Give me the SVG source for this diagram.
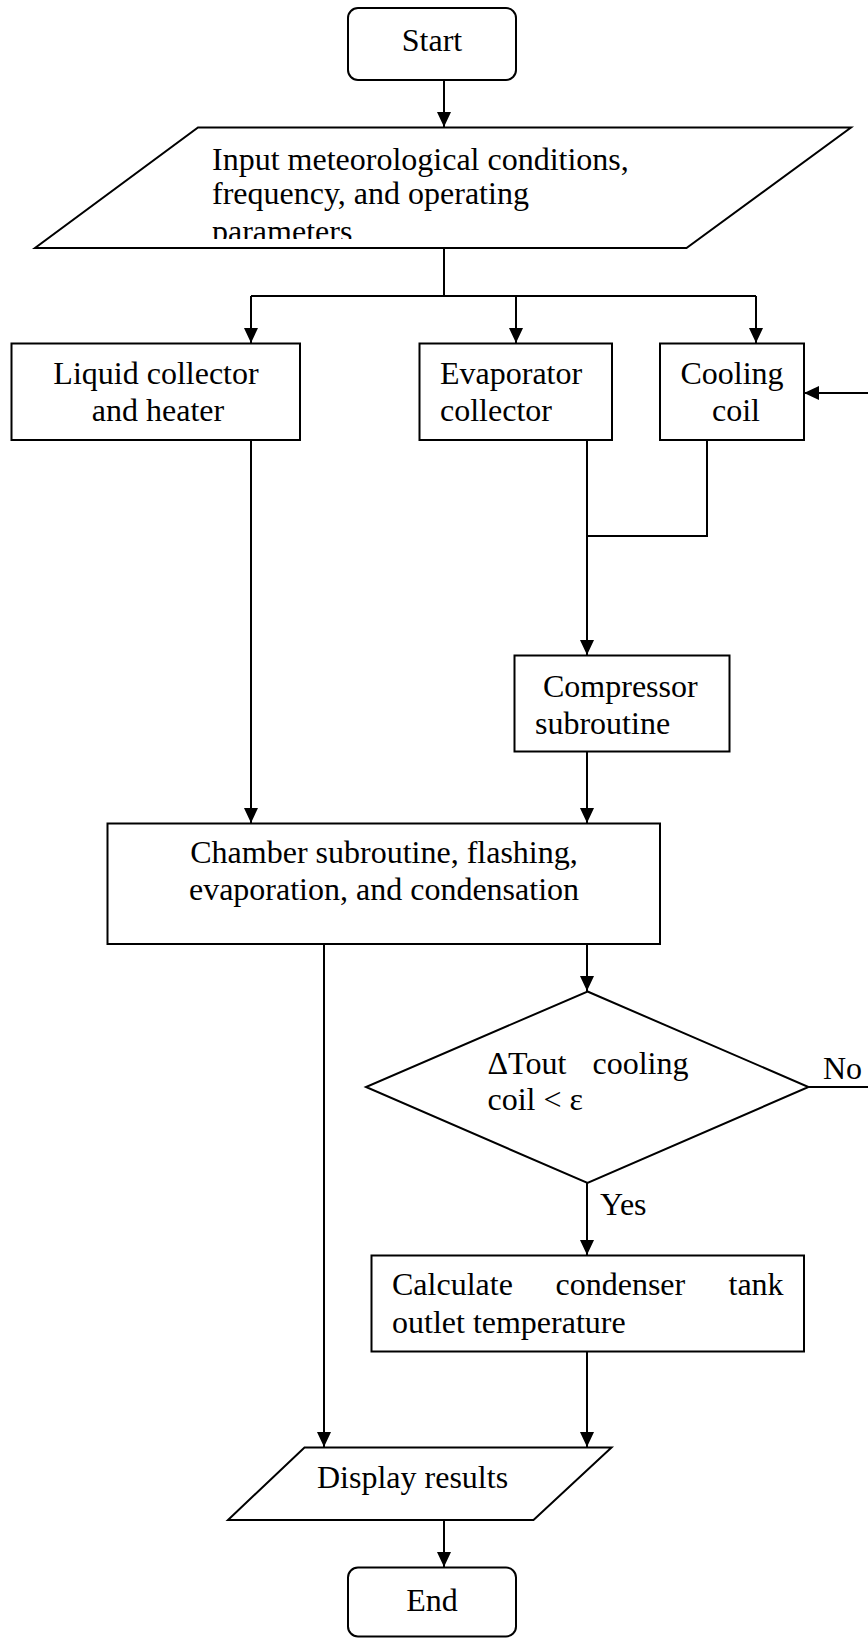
<svg xmlns="http://www.w3.org/2000/svg" width="868" height="1638" viewBox="0 0 868 1638">
<style>
.s{fill:#fff;stroke:#000;stroke-width:2}
.c{fill:none;stroke:#000;stroke-width:2}
.t{font-family:"Liberation Serif","Times New Roman",serif;font-size:32px;fill:#000}
.m{text-anchor:middle}
</style>
<defs>
<marker id="ah" markerUnits="userSpaceOnUse" markerWidth="15" markerHeight="14" refX="15" refY="7" orient="auto">
<path d="M0,0 L15,7 L0,14 z" fill="#000"/>
</marker>
<clipPath id="pc"><rect x="0" y="120" width="868" height="119"/></clipPath>
</defs>
<rect width="868" height="1638" fill="#fff"/>
<g id="connectors">
<path class="c" d="M444,80 V127" marker-end="url(#ah)"/>
<path class="c" d="M444,248 V296 M251,296 H756"/>
<path class="c" d="M251,296 V343" marker-end="url(#ah)"/>
<path class="c" d="M516,296 V343" marker-end="url(#ah)"/>
<path class="c" d="M756,296 V343" marker-end="url(#ah)"/>
<path class="c" d="M251,440 V823" marker-end="url(#ah)"/>
<path class="c" d="M707,440 V536 H587"/>
<path class="c" d="M587,440 V655" marker-end="url(#ah)"/>
<path class="c" d="M587,752 V823" marker-end="url(#ah)"/>
<path class="c" d="M587,944 V991" marker-end="url(#ah)"/>
<path class="c" d="M324,944 V1447" marker-end="url(#ah)"/>
<path class="c" d="M587,1183 V1255" marker-end="url(#ah)"/>
<path class="c" d="M587,1352 V1447" marker-end="url(#ah)"/>
<path class="c" d="M444,1520 V1567" marker-end="url(#ah)"/>
<path class="c" d="M808,1087 H868"/>
<path class="c" d="M868,393 H804" marker-end="url(#ah)"/>
<text class="t" x="600" y="1215">Yes</text>
<text class="t" x="823" y="1079">No</text>
</g>
<g id="start">
<rect class="s" x="348" y="8" width="168" height="72" rx="10"/>
<text class="t m" x="432" y="51">Start</text>
</g>
<g id="input">
<polygon class="s" points="198,127.5 851,127.5 686.5,248 35,248"/>
<g clip-path="url(#pc)">
<text class="t" x="212" y="170">Input meteorological conditions,</text>
<text class="t" x="212" y="204">frequency, and operating</text>
<text class="t" x="212" y="241.5">parameters</text>
</g>
</g>
<g id="liquid">
<rect class="s" x="11.5" y="343.5" width="288.5" height="96.5"/>
<text class="t m" x="156" y="384">Liquid collector</text>
<text class="t m" x="158" y="421">and heater</text>
</g>
<g id="evaporator">
<rect class="s" x="419.5" y="343.5" width="192.5" height="96.5"/>
<text class="t" x="440" y="384">Evaporator</text>
<text class="t" x="440" y="421">collector</text>
</g>
<g id="cooling">
<rect class="s" x="660" y="343.5" width="144" height="96.5"/>
<text class="t m" x="732" y="384">Cooling</text>
<text class="t m" x="736" y="421">coil</text>
</g>
<g id="compressor">
<rect class="s" x="514.5" y="655.5" width="215" height="96"/>
<text class="t" x="543" y="697">Compressor</text>
<text class="t" x="535" y="734">subroutine</text>
</g>
<g id="chamber">
<rect class="s" x="107.5" y="823.5" width="552.5" height="120.5"/>
<text class="t m" x="384" y="863">Chamber subroutine, flashing,</text>
<text class="t m" x="384" y="900">evaporation, and condensation</text>
</g>
<g id="decision">
<polygon class="s" points="587.5,991.5 808.5,1087 587.5,1183 366,1087"/>
<text class="t" x="487.5" y="1074">ΔTout</text>
<text class="t" x="592.5" y="1074">cooling</text>
<text class="t" x="487.5" y="1110">coil &lt; ε</text>
</g>
<g id="calculate">
<rect class="s" x="371.5" y="1255.5" width="432.5" height="96"/>
<text class="t" x="392" y="1295">Calculate</text>
<text class="t" x="555.5" y="1295">condenser</text>
<text class="t" x="728.5" y="1295">tank</text>
<text class="t" x="392" y="1333">outlet temperature</text>
</g>
<g id="display">
<polygon class="s" points="304.5,1447.5 611.5,1447.5 533.5,1520 228,1520"/>
<text class="t" x="317" y="1488">Display results</text>
</g>
<g id="end">
<rect class="s" x="348" y="1567.5" width="168" height="69" rx="10"/>
<text class="t m" x="432" y="1611">End</text>
</g>
</svg>
